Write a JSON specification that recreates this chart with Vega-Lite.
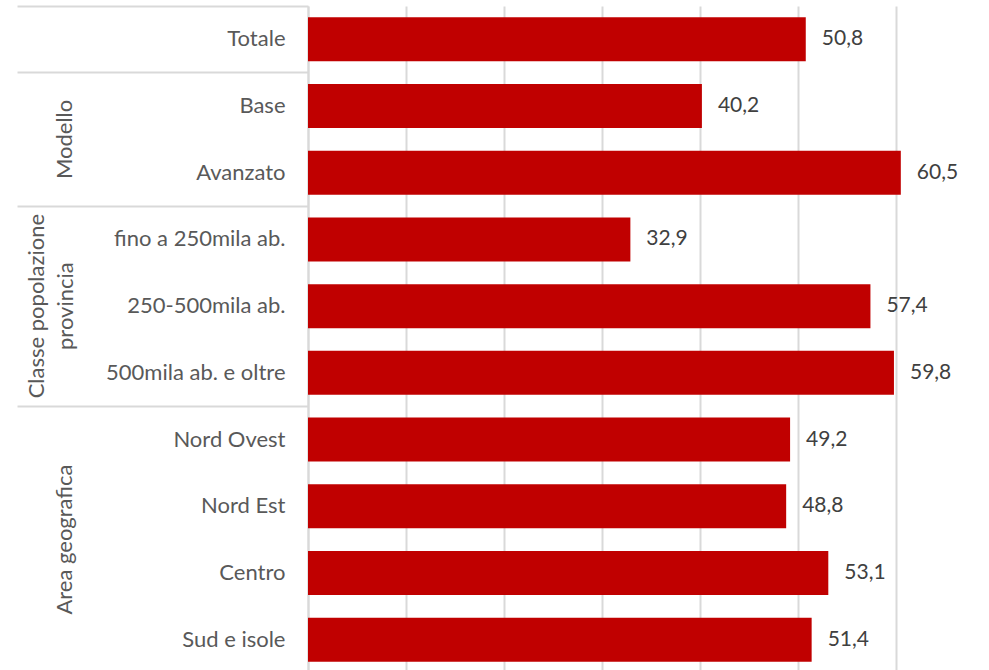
{
  "$schema": "https://vega.github.io/schema/vega-lite/v6.json",
  "autosize": "none",
  "padding": {"left": 308, "top": 6, "right": 0, "bottom": 0},
  "width": 681,
  "height": 667,
  "config": {
    "view": {"stroke": null},
    "font": "Lato",
    "axis": {"labelFont": "Lato"},
    "locale": {"number": {"decimal": ",", "thousands": ".", "grouping": [3], "currency": ["€", ""]}}
  },
  "data": {
    "values": [
      {"gruppo": "Totale", "categoria": "Totale", "valore": 50.8},
      {"gruppo": "Modello", "categoria": "Base", "valore": 40.2},
      {"gruppo": "Modello", "categoria": "Avanzato", "valore": 60.5},
      {"gruppo": "Classe popolazione provincia", "categoria": "fino a 250mila ab.", "valore": 32.9},
      {"gruppo": "Classe popolazione provincia", "categoria": "250-500mila ab.", "valore": 57.4},
      {"gruppo": "Classe popolazione provincia", "categoria": "500mila ab. e oltre", "valore": 59.8},
      {"gruppo": "Area geografica", "categoria": "Nord Ovest", "valore": 49.2},
      {"gruppo": "Area geografica", "categoria": "Nord Est", "valore": 48.8},
      {"gruppo": "Area geografica", "categoria": "Centro", "valore": 53.1},
      {"gruppo": "Area geografica", "categoria": "Sud e isole", "valore": 51.4}
    ]
  },
  "encoding": {
    "x": {
      "field": "valore",
      "type": "quantitative",
      "scale": {"domain": [0, 69.5], "nice": false},
      "axis": {
        "values": [0, 10, 20, 30, 40, 50, 60],
        "grid": true,
        "gridColor": "#d9d9d9",
        "gridWidth": 2,
        "labels": false,
        "ticks": false,
        "domain": false,
        "title": null
      }
    }
  },
  "layer": [
    {
      "mark": {"type": "bar", "color": "#C00000", "height": {"band": 0.66}},
      "encoding": {
        "y": {
          "field": "categoria",
          "type": "nominal",
          "sort": null,
          "scale": {"paddingInner": 0, "paddingOuter": 0},
          "axis": {
            "orient": "left",
            "title": null,
            "ticks": false,
            "tickSize": 0,
            "labelPadding": 23,
            "labelFontSize": 22,
            "labelColor": "#595959",
            "labelAlign": "right",
            "labelBaseline": "middle",
            "labelLimit": 300,
            "domain": true,
            "domainColor": "#d9d9d9",
            "domainWidth": 2,
            "grid": false
          }
        }
      }
    },
    {
      "mark": {"type": "text", "align": "left", "baseline": "middle", "dx": 16, "fontSize": 21, "color": "#404040", "font": "Lato"},
      "encoding": {
        "y": {
          "field": "categoria",
          "type": "nominal",
          "sort": null,
          "axis": {
            "orient": "left",
            "values": ["Totale", "Base", "fino a 250mila ab.", "Nord Ovest"],
            "bandPosition": 0,
            "ticks": true,
            "tickSize": 291,
            "tickColor": "#d9d9d9",
            "tickWidth": 2,
            "labels": false,
            "domain": false,
            "grid": false,
            "title": null
          }
        },
        "text": {"field": "valore", "type": "quantitative", "format": ".1f"}
      }
    },
    {
      "mark": {"type": "point", "opacity": 0},
      "encoding": {
        "y": {
          "field": "categoria",
          "type": "nominal",
          "sort": null,
          "axis": {
            "orient": "left",
            "values": ["Avanzato", "Centro"],
            "ticks": false,
            "tickSize": 0,
            "domain": false,
            "grid": false,
            "title": null,
            "labelExpr": "datum.value == 'Avanzato' ? 'Modello' : 'Area geografica'",
            "labelAngle": -90,
            "labelAlign": "center",
            "labelBaseline": "alphabetic",
            "labelOffset": -33.35,
            "labelPadding": 237,
            "labelFontSize": 22,
            "labelColor": "#595959",
            "labelLimit": 400
          }
        }
      }
    },
    {
      "mark": {"type": "point", "opacity": 0},
      "encoding": {
        "y": {
          "field": "categoria",
          "type": "nominal",
          "sort": null,
          "axis": {
            "orient": "left",
            "values": ["250-500mila ab."],
            "ticks": false,
            "tickSize": 0,
            "domain": false,
            "grid": false,
            "title": null,
            "labelExpr": "['Classe popolazione', 'provincia']",
            "labelAngle": -90,
            "labelAlign": "center",
            "labelBaseline": "alphabetic",
            "labelLineHeight": 29,
            "labelPadding": 265,
            "labelFontSize": 22,
            "labelColor": "#595959",
            "labelLimit": 400
          }
        }
      }
    }
  ],
  "resolve": {"axis": {"y": "independent"}}
}
